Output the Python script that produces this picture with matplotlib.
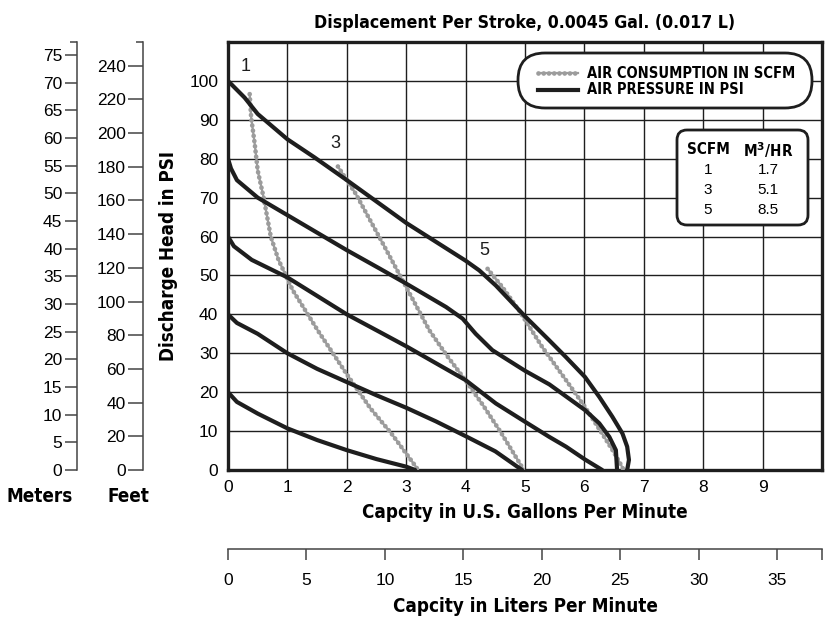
import matplotlib
matplotlib.use("Agg")
import matplotlib.pyplot as plt
from matplotlib.patches import FancyBboxPatch
from matplotlib.lines import Line2D

W, H = 825, 622

# air pressure curves (gpm, psi)
p100_gpm = [0, 0.28, 0.5, 1, 1.46, 2, 2.5, 3, 3.67, 4.0, 4.23, 4.51, 5.0, 5.41, 5.69,
            6.01, 6.25, 6.47, 6.64, 6.72, 6.75, 6.72]
p100_psi = [100, 95.7, 91.5, 85, 80.3, 74.5, 69, 63.5, 57, 53.8, 51.3, 47.4, 39.5, 33.3, 29,
            23.9, 18.8, 13.7, 9.4, 6, 2.6, 0]
p80_gpm = [0, 0.05, 0.15, 0.5, 1, 2, 2.55, 3.0, 3.67, 3.95, 4.17, 4.45, 5.0, 5.41, 6.01, 6.25,
           6.42, 6.53, 6.55]
p80_psi = [80, 77.5, 74.5, 70, 65.5, 56.5, 51.8, 47.9, 41.9, 38.9, 35, 30.8, 25.5, 22, 15.4, 12,
           8.5, 5.1, 0]
p60_gpm = [0, 0.1, 0.4, 1, 2, 2.55, 3, 4, 4.51, 5, 5.41, 5.69, 6.01, 6.3]
p60_psi = [60, 57.5, 54, 49.5, 40, 35.5, 31.8, 23.1, 17.1, 12.4, 8.5, 6, 2.7, 0]
p40_gpm = [0, 0.15, 0.5, 1, 1.5, 2, 2.5, 3, 3.5, 4, 4.5, 4.95]
p40_psi = [40, 37.8, 35, 30, 26, 22.6, 19.2, 16, 12.5, 8.7, 4.8, 0]
p20_gpm = [0, 0.15, 0.5, 1, 1.5, 2, 2.5, 3, 3.15]
p20_psi = [20, 17.5, 14.5, 10.7, 7.7, 5.1, 2.8, 0.85, 0]

# air consumption curves (gpm, psi)
scfm1_gpm = [0.365, 0.39, 0.45, 0.5, 0.6, 0.72, 0.85, 1.09, 1.51, 2.0, 2.4, 2.75, 3.16, 3.2]
scfm1_psi = [96.6, 90.6, 83.8, 77, 70, 60, 54, 46.2, 35.9, 24.6, 15.8, 9.4, 0.9, 0]
scfm3_gpm = [1.85, 2.15, 2.61, 3.0, 3.39, 3.68, 4.0, 4.3, 4.6, 4.82, 4.98]
scfm3_psi = [78, 71, 58.1, 47, 35.9, 29.5, 23, 16.5, 9.5, 4, 0]
scfm5_gpm = [4.37, 4.62, 4.9, 5.29, 5.69, 6.01, 6.25, 6.47, 6.62, 6.66]
scfm5_psi = [51.7, 47, 41, 31.6, 23.1, 16.2, 10.5, 5.2, 1.2, 0]

scfm_labels = ["1", "3", "5"]
scfm_label_pos = [(0.3, 103.8), (1.8, 83.8), (4.32, 56.4)]

table_scfm = ["1", "3", "5"]
table_m3hr = ["1.7", "5.1", "8.5"]

BOLD = ["DejaVu Sans"]
NUM = ["Liberation Sans", "DejaVu Sans"]
INK = "#1e1e1e"
GREY = "#9c9c9c"
BKW = dict(family=BOLD, fontweight="bold", fontstretch="condensed")


def fx(px):
    return px / W


def fy(py):
    return 1 - py / H


fig = plt.figure(figsize=(W / 100, H / 100), dpi=100)
fig.patch.set_facecolor("white")

ax = fig.add_axes([fx(228), fy(470), 594 / W, 428 / H])
ax.set_xlim(0, 10)
ax.set_ylim(0, 110)
ax.set_xticks(range(0, 10))
ax.set_yticks(range(0, 101, 10))
ax.grid(True, color=INK, lw=1.0)
ax.tick_params(length=0, labelsize=12.5, pad=7)
for lab in ax.get_xticklabels() + ax.get_yticklabels():
    lab.set_family(NUM)
for s in ax.spines.values():
    s.set_linewidth(2.4)
    s.set_color(INK)
ax.set_axisbelow(True)

for g, p in [(p100_gpm, p100_psi), (p80_gpm, p80_psi), (p60_gpm, p60_psi),
             (p40_gpm, p40_psi), (p20_gpm, p20_psi)]:
    ax.plot(g, p, color=INK, lw=3.0, solid_capstyle="round", solid_joinstyle="round", zorder=4)

for g, p in [(scfm1_gpm, scfm1_psi), (scfm3_gpm, scfm3_psi), (scfm5_gpm, scfm5_psi)]:
    ax.plot(g, p, color=GREY, lw=1.6, zorder=3)
    ax.plot(g, p, color=GREY, lw=3.4, linestyle=(0, (0.01, 1.1)),
            dash_capstyle="round", zorder=3)

for lab, (x, y) in zip(scfm_labels, scfm_label_pos):
    ax.text(x, y, lab, fontsize=13, family=NUM, color=INK, ha="center", va="center")

ax.set_ylabel("Discharge Head in PSI", fontsize=13.5, labelpad=8, **BKW)
ax.set_xlabel("Capcity in U.S. Gallons Per Minute", fontsize=13.5, labelpad=6, **BKW)
ax.set_title("Displacement Per Stroke, 0.0045 Gal. (0.017 L)", fontsize=12.7, pad=10, **BKW)


def side_axis(px, top, step, ticklen):
    a = fig.add_axes([fx(px), fy(470), 0.0001, 428 / H])
    a.set_ylim(0, top)
    for k in ["top", "right", "bottom"]:
        a.spines[k].set_visible(False)
    a.spines["left"].set_linewidth(1.1)
    a.spines["left"].set_color("#444444")
    a.set_xticks([])
    a.set_yticks(range(0, int(top) + 1, step))
    a.set_yticks([top], minor=True)
    a.tick_params(axis="y", which="major", length=ticklen, width=1.1, color="#444444",
                  labelsize=12.5, pad=2)
    a.tick_params(axis="y", which="minor", length=5, width=1.1, color="#444444")
    for lab in a.get_yticklabels():
        lab.set_family(NUM)
    return a


side_axis(77, 110 * 0.7031, 5, 8.5)
side_axis(143, 110 * 2.31, 20, 10.5)
fig.text(fx(40), fy(497), "Meters", fontsize=13.5, ha="center", va="center", **BKW)
fig.text(fx(128), fy(497), "Feet", fontsize=13.5, ha="center", va="center", **BKW)

# liters axis
la = fig.add_axes([fx(228), fy(549), 594 / W, 0.0001])
la.set_xlim(0, 10 * 3.7854)
for k in ["top", "right", "left"]:
    la.spines[k].set_visible(False)
la.spines["bottom"].set_linewidth(1.1)
la.spines["bottom"].set_color("#444444")
la.set_yticks([])
la.set_xticks(range(0, 36, 5))
la.set_xticks([10 * 3.7854], minor=True)
la.tick_params(axis="x", which="major", length=8, width=1.1, color="#444444",
               labelsize=12.5, pad=9)
la.tick_params(axis="x", which="minor", length=8, width=1.1, color="#444444")
for lab in la.get_xticklabels():
    lab.set_family(NUM)
fig.text(fx(525), fy(607), "Capcity in Liters Per Minute", fontsize=13.5,
         ha="center", va="center", **BKW)

# legend box
tr = fig.dpi_scale_trans


def ix(px):
    return px / 100


def iy(py):
    return (H - py) / 100


leg = FancyBboxPatch((ix(518), iy(108)), ix(812) - ix(518), iy(53) - iy(108),
                     boxstyle="round,pad=0,rounding_size=0.27", transform=tr,
                     facecolor="white", edgecolor=INK, lw=2.0, zorder=5)
fig.add_artist(leg)
fig.add_artist(Line2D([ix(538), ix(578)], [iy(73), iy(73)], transform=tr, color=GREY,
                      lw=1.6, zorder=6))
fig.add_artist(Line2D([ix(538), ix(578)], [iy(73), iy(73)], transform=tr, color=GREY,
                      lw=3.4, linestyle=(0, (0.01, 1.1)), dash_capstyle="round", zorder=6))
fig.add_artist(Line2D([ix(538), ix(578)], [iy(90), iy(90)], transform=tr, color=INK,
                      lw=3.0, zorder=6))
fig.text(fx(587), fy(73), "AIR CONSUMPTION IN SCFM", fontsize=10.5, va="center",
         zorder=7, **BKW)
fig.text(fx(587), fy(90), "AIR PRESSURE IN PSI", fontsize=10.5, va="center",
         zorder=7, **BKW)

# table box
tab = FancyBboxPatch((ix(677), iy(225)), ix(808) - ix(677), iy(130) - iy(225),
                     boxstyle="round,pad=0,rounding_size=0.1", transform=tr,
                     facecolor="white", edgecolor=INK, lw=2.0, zorder=5)
fig.add_artist(tab)
fig.text(fx(708), fy(150), "SCFM", fontsize=11, ha="center", va="center", zorder=7, **BKW)
fig.text(fx(768), fy(150), "M$^{\\mathbf{3}}$/HR", fontsize=11, ha="center", va="center",
         zorder=7, **BKW)
for i, (a, b) in enumerate(zip(table_scfm, table_m3hr)):
    yy = 170 + i * 20
    fig.text(fx(708), fy(yy), a, family=NUM, fontsize=11, ha="center", va="center", zorder=7)
    fig.text(fx(768), fy(yy), b, family=NUM, fontsize=11, ha="center", va="center", zorder=7)

fig.savefig("out.png", dpi=100)
